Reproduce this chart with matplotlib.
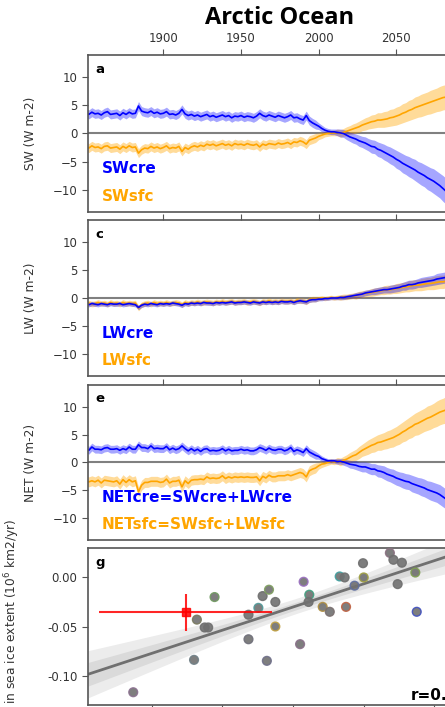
import numpy as np
import matplotlib
matplotlib.use("Agg")
import matplotlib.pyplot as plt

# time axis (2-yr steps, visible part of the record)
years = np.arange(1850, 2083, 2)

sw_cre = [3.7, 3.4, 3.8, 3.5, 3.6, 3.3, 3.7, 3.9, 3.4, 3.5,
          3.6, 3.2, 3.7, 3.4, 3.8, 3.5, 3.6, 4.9, 4.0, 3.8,
          3.7, 4.0, 3.6, 3.8, 3.5, 3.6, 3.9, 3.4, 3.5, 3.3,
          3.6, 4.3, 3.5, 3.2, 3.4, 3.1, 3.3, 3.0, 3.2, 3.4,
          3.0, 3.2, 2.9, 3.1, 3.3, 3.0, 3.2, 2.8, 3.1, 3.0,
          3.2, 2.9, 3.1, 3.0, 2.8, 3.1, 3.6, 3.2, 3.0, 3.3,
          3.1, 2.9, 3.2, 3.0, 2.8, 3.0, 3.3, 2.8, 2.9, 2.6,
          2.4, 3.2, 2.3, 1.9, 1.6, 1.3, 0.9, 0.6, 0.4, 0.3,
          0.3, 0.2, 0.1, 0.0, -0.3, -0.6, -0.8, -1.0, -1.3, -1.5,
          -1.7, -2.0, -2.3, -2.4, -2.8, -3.0, -3.3, -3.6, -3.9, -4.2,
          -4.6, -4.9, -5.3, -5.6, -5.9, -6.2, -6.5, -6.9, -7.2, -7.5,
          -7.9, -8.2, -8.5, -8.9, -9.3, -9.8, -10.3]
sw_sfc = [-2.3, -2.6, -2.2, -2.5, -2.4, -2.7, -2.3, -2.2, -2.6, -2.5,
          -2.4, -2.8, -2.3, -2.6, -2.2, -2.5, -2.4, -3.5, -2.9, -2.6,
          -2.7, -2.3, -2.6, -2.4, -2.7, -2.5, -2.2, -2.7, -2.5, -2.6,
          -2.3, -3.2, -2.5, -2.8, -2.4, -2.2, -2.4, -2.1, -2.3, -1.9,
          -2.1, -1.9, -2.2, -2.0, -1.8, -2.1, -1.9, -2.2, -1.8, -2.0,
          -1.9, -2.1, -1.8, -2.0, -2.1, -1.9, -2.4, -1.9, -2.1, -1.8,
          -1.9, -2.0, -1.7, -1.9, -1.8, -1.6, -1.9, -1.5, -1.6, -1.3,
          -1.5, -1.9, -1.2, -1.0, -0.8, -0.5, -0.3, -0.1, 0.0, 0.1,
          0.1, 0.2, 0.0, 0.2, 0.4, 0.6, 0.8, 1.0, 1.2, 1.5,
          1.7, 1.9, 2.1, 2.2, 2.4, 2.4, 2.5, 2.6, 2.8, 2.9,
          3.1, 3.3, 3.6, 3.8, 4.1, 4.3, 4.6, 4.8, 5.0, 5.2,
          5.4, 5.6, 5.8, 6.0, 6.2, 6.4, 6.5]
lw_cre = [-1.1, -1.2, -1.0, -1.1, -1.2, -1.0, -1.1, -1.2, -1.0, -1.1,
          -1.1, -1.0, -1.2, -1.1, -1.0, -1.1, -1.2, -1.7, -1.3, -1.1,
          -1.2, -1.0, -1.1, -1.2, -1.0, -1.1, -1.0, -1.1, -0.9, -1.0,
          -1.1, -1.3, -1.0, -1.1, -0.9, -1.0, -0.9, -1.0, -0.8, -0.9,
          -0.9, -1.0, -0.8, -0.9, -0.8, -0.9, -0.8, -0.7, -0.9, -0.8,
          -0.8, -0.7, -0.8, -0.9, -0.7, -0.8, -0.9, -0.7, -0.8, -0.7,
          -0.8, -0.7, -0.8, -0.6, -0.7, -0.7, -0.6, -0.8, -0.6, -0.5,
          -0.6, -0.7, -0.4, -0.3, -0.3, -0.2, -0.2, -0.1, -0.1, 0.0,
          0.0, 0.0, 0.1, 0.1, 0.2, 0.3, 0.4, 0.5, 0.6, 0.7,
          0.9, 1.0, 1.1, 1.2, 1.3, 1.4, 1.5, 1.5, 1.6, 1.7,
          1.8, 1.9, 2.1, 2.2, 2.4, 2.4, 2.5, 2.7, 2.8, 2.9,
          3.0, 3.1, 3.2, 3.4, 3.5, 3.6, 3.7]
lw_sfc = [-1.0, -0.9, -1.1, -1.0, -0.8, -1.0, -0.9, -1.1, -0.8, -1.0,
          -0.9, -1.1, -0.8, -1.0, -0.9, -1.0, -0.9, -1.8, -1.2, -1.0,
          -0.9, -1.1, -0.8, -1.0, -0.9, -1.0, -0.8, -1.0, -0.9, -0.8,
          -0.9, -1.2, -0.8, -1.0, -0.8, -0.9, -0.7, -0.9, -0.8, -0.7,
          -0.8, -0.9, -0.7, -0.8, -0.6, -0.8, -0.7, -0.6, -0.8, -0.7,
          -0.7, -0.6, -0.8, -0.7, -0.6, -0.7, -0.9, -0.6, -0.7, -0.5,
          -0.7, -0.6, -0.7, -0.5, -0.6, -0.6, -0.5, -0.7, -0.4, -0.5,
          -0.5, -0.7, -0.3, -0.2, -0.2, -0.1, 0.0, -0.1, 0.0, 0.1,
          0.0, 0.1, 0.1, 0.2, 0.2, 0.3, 0.4, 0.4, 0.6, 0.7,
          0.8, 0.9, 1.0, 1.1, 1.2, 1.3, 1.4, 1.5, 1.5, 1.6,
          1.7, 1.8, 1.9, 2.0, 2.1, 2.2, 2.3, 2.3, 2.4, 2.5,
          2.6, 2.6, 2.7, 2.8, 2.9, 2.9, 3.0]

# ensemble spread (half width): 1850-1998 constant, then 2000-2082
sw_cre_spread = [0.8] * 75 + [0.6, 0.6, 0.5, 0.5, 0.5, 0.5, 0.6, 0.7, 0.7, 0.8,
                              0.8, 0.9, 0.9, 1.0, 1.0, 1.1, 1.1, 1.2, 1.2, 1.3,
                              1.3, 1.4, 1.4, 1.5, 1.5, 1.6, 1.6, 1.7, 1.7, 1.8,
                              1.8, 1.9, 1.9, 2.0, 2.0, 2.1, 2.1, 2.2, 2.2, 2.2,
                              2.3, 2.3]
sw_sfc_spread = [0.8] * 75 + [0.6, 0.6, 0.5, 0.5, 0.5, 0.5, 0.6, 0.7, 0.7, 0.8,
                              0.8, 0.9, 0.9, 1.0, 1.0, 1.1, 1.1, 1.2, 1.2, 1.3,
                              1.3, 1.4, 1.4, 1.5, 1.5, 1.6, 1.6, 1.7, 1.7, 1.8,
                              1.8, 1.9, 1.9, 2.0, 2.0, 2.0, 2.1, 2.1, 2.1, 2.2,
                              2.2, 2.2]
lw_cre_spread = [0.4] * 75 + [0.3, 0.3, 0.3, 0.3, 0.3, 0.3, 0.3, 0.4, 0.4, 0.4,
                              0.4, 0.4, 0.5, 0.5, 0.5, 0.5, 0.5, 0.5, 0.6, 0.6,
                              0.6, 0.6, 0.6, 0.7, 0.7, 0.7, 0.7, 0.7, 0.8, 0.8,
                              0.8, 0.8, 0.8, 0.9, 0.9, 0.9, 0.9, 0.9, 1.0, 1.0,
                              1.0, 1.0]
lw_sfc_spread = [0.5] * 75 + [0.4, 0.4, 0.4, 0.4, 0.4, 0.4, 0.4, 0.5, 0.5, 0.5,
                              0.5, 0.5, 0.6, 0.6, 0.6, 0.6, 0.6, 0.7, 0.7, 0.7,
                              0.7, 0.8, 0.8, 0.8, 0.8, 0.9, 0.9, 0.9, 0.9, 1.0,
                              1.0, 1.0, 1.0, 1.1, 1.1, 1.1, 1.1, 1.2, 1.2, 1.2,
                              1.2, 1.2]
net_cre_spread = [0.7] * 75 + [0.5, 0.5, 0.4, 0.4, 0.4, 0.4, 0.5, 0.5, 0.6, 0.6,
                               0.7, 0.7, 0.8, 0.8, 0.9, 0.9, 1.0, 1.0, 1.0, 1.1,
                               1.1, 1.2, 1.2, 1.2, 1.3, 1.3, 1.3, 1.4, 1.4, 1.4,
                               1.5, 1.5, 1.5, 1.6, 1.6, 1.6, 1.7, 1.7, 1.7, 1.8,
                               1.8, 1.8]
net_sfc_spread = [0.9] * 75 + [0.6, 0.6, 0.5, 0.5, 0.5, 0.5, 0.6, 0.7, 0.7, 0.8,
                               0.9, 0.9, 1.0, 1.1, 1.1, 1.2, 1.3, 1.3, 1.4, 1.4,
                               1.5, 1.5, 1.6, 1.6, 1.7, 1.7, 1.8, 1.8, 1.9, 1.9,
                               2.0, 2.0, 2.1, 2.1, 2.1, 2.2, 2.2, 2.2, 2.3, 2.3,
                               2.3, 2.4]

# panel g: models (gray) and observation (red)
model_x = [0.74, 1.60, 1.64, 1.75, 1.80, 1.89, 2.37, 2.37, 2.51, 2.57, 2.63,
           2.66, 2.75, 2.75, 3.10, 3.15, 3.23, 3.22, 3.42, 3.52, 3.66, 3.73,
           3.75, 3.87, 3.99, 4.00, 4.37, 4.42, 4.54, 4.48, 4.73, 4.75]
model_y = [-0.117, -0.084, -0.043, -0.051, -0.051, -0.020, -0.038, -0.063,
           -0.031, -0.019, -0.085, -0.0125, -0.025, -0.050, -0.068, -0.0044,
           -0.0176, -0.025, -0.030, -0.035, 0.001, 0.000, -0.030, -0.0084,
           0.0145, 0.000, 0.025, 0.018, 0.015, -0.0068, 0.005, -0.035]
model_edge = ['#8a6f8f', '#6f7f86', '#7a7a5f', '#6f6f6f', '#707070', '#6f9a5f',
              '#6f6f6f', '#6f6f7a', '#4f9a9a', '#6f6f6f', '#6f6f8a', '#7fa05f',
              '#6f6f6f', '#c0a040', '#8a6f8a', '#9a6fc0', '#40a080', '#6f6f6f',
              '#b08f40', '#7a6f6f', '#40a0a0', '#6f6f6f', '#c06040', '#5f6fa0',
              '#6f6f6f', '#a0a040', '#8a6f80', '#6f6f6f', '#6f6f6f', '#6f6f6f',
              '#7fa050', '#4050c0']
obs_x, obs_y = 1.48, -0.0355
obs_xerr, obs_yerr = 1.22, 0.019

sw_cre = np.array(sw_cre)
sw_sfc = np.array(sw_sfc)
lw_cre = np.array(lw_cre)
lw_sfc = np.array(lw_sfc)
net_cre = sw_cre + lw_cre
net_sfc = sw_sfc + lw_sfc

fig = plt.figure(figsize=(4.45, 7.07), dpi=100)
L, W = 88 / 445, 386 / 445
def axpos(top, bottom):
    return [L, 1 - bottom / 707, W, (bottom - top) / 707]

tc = '#333333'
fs_tick = 8.5
fs_lab = 8.8
panels = [
    (axpos(55, 212), 'a', 'SW (W m-2)', sw_cre, sw_cre_spread, sw_sfc, sw_sfc_spread, 'SWcre', 'SWsfc'),
    (axpos(220, 376), 'c', 'LW (W m-2)', lw_cre, lw_cre_spread, lw_sfc, lw_sfc_spread, 'LWcre', 'LWsfc'),
    (axpos(385, 540), 'e', 'NET (W m-2)', net_cre, net_cre_spread, net_sfc, net_sfc_spread,
     'NETcre=SWcre+LWcre', 'NETsfc=SWsfc+LWsfc'),
]

for i, (pos, lab, ylab, cre, cre_s, sfc, sfc_s, ncre, nsfc) in enumerate(panels):
    ax = fig.add_axes(pos)
    ax.axhline(0, color='#808080', lw=1.5, zorder=1)
    ax.fill_between(years, sfc - np.array(sfc_s), sfc + np.array(sfc_s), color='orange', alpha=0.4, lw=0)
    ax.plot(years, sfc, color='orange', lw=1.2)
    ax.fill_between(years, cre - np.array(cre_s), cre + np.array(cre_s), color='blue', alpha=0.35, lw=0)
    ax.plot(years, cre, color='blue', lw=1.2)
    ax.set_xlim(1851.5, 2100)
    ax.set_ylim(-14, 14)
    ax.set_yticks([-10, -5, 0, 5, 10])
    ax.set_xticks([1900, 1950, 2000, 2050])
    ax.tick_params(axis='x', top=True, bottom=False, labeltop=(i == 0), labelbottom=False,
                   direction='out', length=4, colors='#555555', labelcolor=tc, labelsize=fs_tick)
    ax.tick_params(axis='y', direction='out', length=4, colors='#555555', labelcolor=tc, labelsize=fs_tick)
    ax.set_ylabel(ylab, fontsize=fs_lab, color=tc)
    ax.yaxis.set_label_coords(-0.132, 0.5)
    for s in ax.spines.values():
        s.set_color('#555555')
        s.set_linewidth(1.2)
    ax.text(0.02, 0.91, lab, transform=ax.transAxes, fontsize=9.5, fontweight='bold', va='center')
    ax.text(0.035, 0.275, ncre, transform=ax.transAxes, fontsize=11, fontweight='bold',
            color='blue', va='center')
    ax.text(0.035, 0.097, nsfc, transform=ax.transAxes, fontsize=11, fontweight='bold',
            color='orange', va='center')

fig.text(280 / 445, 1 - 18 / 707, 'Arctic Ocean', ha='center', va='center',
         fontsize=17, fontweight='bold', family='Open Sans')

# panel g
ax = fig.add_axes(axpos(548, 705))
mx = np.array(model_x)
my = np.array(model_y)
slope, icpt = np.polyfit(mx, my, 1)
xx = np.linspace(0.1, 5.56, 100)
n = len(mx)
resid = my - (slope * mx + icpt)
s = np.sqrt(np.sum(resid ** 2) / (n - 2))
se = s * np.sqrt(1 / n + (xx - mx.mean()) ** 2 / np.sum((mx - mx.mean()) ** 2))
yy = slope * xx + icpt
ax.fill_between(xx, yy - 2 * se, yy + 2 * se, color='#ececec', lw=0)
ax.fill_between(xx, yy - se, yy + se, color='#dadada', lw=0)
ax.plot(xx, yy, color='#707070', lw=2)
ax.scatter(mx, my, s=40, c='#707070', edgecolors=model_edge, linewidths=1, alpha=0.9, zorder=3)
ax.errorbar(obs_x, obs_y, xerr=obs_xerr, yerr=obs_yerr, fmt='s', color='red', ms=6,
            lw=1.5, alpha=0.85, zorder=4)
r = np.corrcoef(mx, my)[0, 1]
ax.text(0.835, 0.03, f'r={r:.2f}', transform=ax.transAxes, fontsize=11, fontweight='bold')
ax.text(0.02, 0.906, 'g', transform=ax.transAxes, fontsize=9.5, fontweight='bold', va='center')
ax.set_xlim(0.1, 5.56)
ax.set_ylim(-0.13, 0.03)
ax.set_xticks([1, 2, 3, 4, 5])
ax.set_xticklabels([])
ax.set_yticks([-0.10, -0.05, 0.00])
ax.yaxis.set_major_formatter(matplotlib.ticker.FormatStrFormatter('%.2f'))
ax.tick_params(direction='out', length=4, colors='#555555', labelcolor=tc, labelsize=fs_tick)
ax.set_ylabel('Trend in sea ice extent (10$^6$ km2/yr)', fontsize=fs_lab, color=tc)
ax.yaxis.set_label_coords(-0.171, 0.47)
for sp in ax.spines.values():
    sp.set_color('#555555')
    sp.set_linewidth(1.2)

fig.savefig('out.png', dpi=100)
